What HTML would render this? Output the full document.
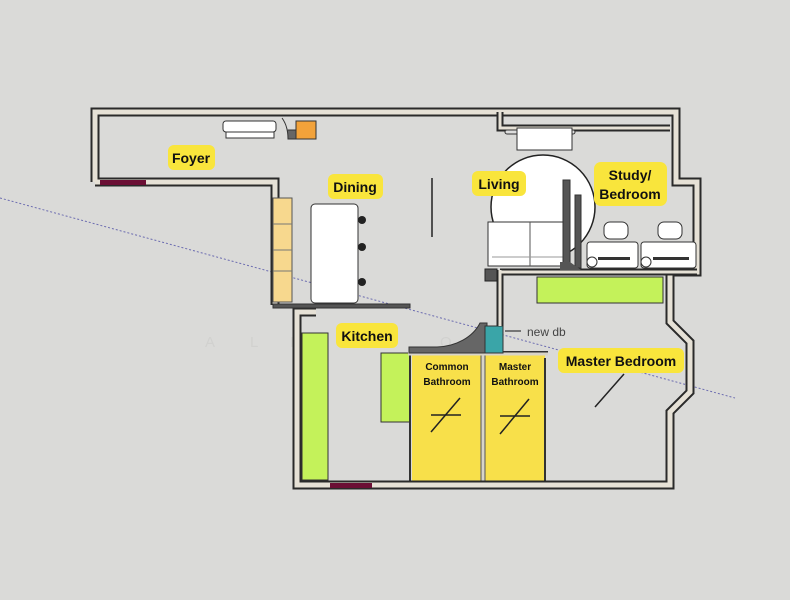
<!DOCTYPE html>
<html><head><meta charset="utf-8"><style>
html,body{margin:0;padding:0;background:#dadad8;}
svg{display:block}
text{font-family:"Liberation Sans",sans-serif;font-weight:bold;fill:#111}
text.wm{fill:#d1d1cf;font-weight:normal}
</style></head><body>
<svg width="790" height="600" viewBox="0 0 790 600" xmlns="http://www.w3.org/2000/svg">
<rect width="790" height="600" fill="#dadad8"/>
<line x1="0" y1="198" x2="735" y2="398" stroke="#6c6cb0" stroke-width="1" stroke-dasharray="2,2"/>
<g font-size="15">
<text class="wm" x="205" y="347">A</text>
<text class="wm" x="250" y="347">L</text>
<text class="wm" x="290" y="347">E</text>
<text class="wm" x="310" y="347">X</text>
<text class="wm" x="440" y="347">Q</text>
</g>
<rect x="302" y="333" width="26" height="147" fill="#c4f25a" stroke="#333" stroke-width="1"/>
<rect x="381" y="353" width="29" height="69" fill="#c4f25a" stroke="#333" stroke-width="1"/>
<rect x="537" y="277" width="126" height="26" fill="#c4f25a" stroke="#333" stroke-width="1"/>
<rect x="412" y="355" width="133" height="127" fill="#f8e04a"/>
<line x1="483" y1="355" x2="483" y2="482" stroke="#d8d4c8" stroke-width="4"/>
<line x1="481" y1="355" x2="481" y2="482" stroke="#555" stroke-width="1"/>
<line x1="485" y1="355" x2="485" y2="482" stroke="#555" stroke-width="1"/>
<path d="M410,352 L410,482 M545,358 L545,482 M410,352 L548,352" stroke="#333" stroke-width="2" fill="none"/>
<line x1="408" y1="354" x2="548" y2="354" stroke="#d8d4c8" stroke-width="3"/>
<path d="M409,347 L437,347 A48,38 0 0 0 480,323 L487,323 L487,353 L409,353 Z" fill="#666" stroke="#333" stroke-width="1"/>
<rect x="485" y="326" width="18" height="27" fill="#3aa5a8" stroke="#333" stroke-width="1"/>
<line x1="505" y1="331" x2="521" y2="331" stroke="#555" stroke-width="1.5"/>
<text x="527" y="336" font-size="12" style="fill:#444;font-weight:normal">new db</text>
<g fill="none" stroke-linejoin="miter">
<path d="M95,182 L95,112 L676,112 L676,182 L697,182 L697,272 L670,272 L670,322 L690,342 L690,392 L670,412 L670,485 L297,485 L297,312 L316,312 M95,182 L275,182 L275,305" stroke="#2a2a2a" stroke-width="9"/>
<path d="M95,182 L95,112 L676,112 L676,182 L697,182 L697,272 L670,272 L670,322 L690,342 L690,392 L670,412 L670,485 L297,485 L297,312 L316,312 M95,182 L275,182 L275,305" stroke="#e6e1d6" stroke-width="5"/>
<path d="M500,112 L500,128 L670,128 M500,272 L697,272 M500,270 L500,326" stroke="#2a2a2a" stroke-width="7"/>
<path d="M500,112 L500,128 L670,128 M500,272 L697,272 M500,270 L500,326" stroke="#e6e1d6" stroke-width="3"/>
</g>
<rect x="273" y="304" width="137" height="4" fill="#555" stroke="#333" stroke-width="1"/>
<rect x="100" y="180" width="46" height="5" fill="#6b0f35"/>
<rect x="330" y="483" width="42" height="5" fill="#6b0f35"/>
<rect x="485" y="269" width="12" height="12" fill="#555" stroke="#222"/>
<rect x="223" y="121" width="53" height="11" rx="3" fill="#fff" stroke="#333"/>
<rect x="226" y="132" width="48" height="6" fill="#fff" stroke="#333"/>
<path d="M282,118 Q288,126 288,139 L296,139 L296,130 L288,130" fill="#666" stroke="#333"/>
<rect x="296" y="121" width="20" height="18" fill="#f2a23a" stroke="#333"/>
<rect x="273" y="198" width="19" height="104" fill="#f7d88e" stroke="#555"/>
<line x1="273" y1="224" x2="292" y2="224" stroke="#777"/>
<line x1="273" y1="250" x2="292" y2="250" stroke="#777"/>
<line x1="273" y1="271" x2="292" y2="271" stroke="#777"/>
<rect x="311" y="204" width="47" height="99" rx="4" fill="#fff" stroke="#333"/>
<g fill="#222"><circle cx="362" cy="220" r="4"/><circle cx="362" cy="247" r="4"/><circle cx="362" cy="282" r="4"/></g>
<line x1="432" y1="178" x2="432" y2="237" stroke="#222" stroke-width="1.5"/>
<circle cx="543" cy="207" r="52" fill="#fff" stroke="#222" stroke-width="1.5"/>
<rect x="505" y="130" width="70" height="4" rx="2" fill="#ddd" stroke="#333"/>
<rect x="517" y="128" width="55" height="22" fill="#fff" stroke="#333"/>
<rect x="488" y="222" width="79" height="44" fill="#fff" stroke="#333"/>
<line x1="530" y1="222" x2="530" y2="266" stroke="#555"/>
<line x1="492" y1="257" x2="565" y2="257" stroke="#999"/>
<rect x="563" y="180" width="7" height="88" fill="#555" stroke="#333"/>
<rect x="575" y="195" width="6" height="73" fill="#555" stroke="#333"/>
<path d="M560,262 L570,262 L581,270 L560,270 Z" fill="#555"/>
<rect x="587" y="242" width="51" height="26" rx="3" fill="#fff" stroke="#333"/>
<rect x="641" y="242" width="55" height="26" rx="3" fill="#fff" stroke="#333"/>
<rect x="598" y="257" width="32" height="3" fill="#333"/><rect x="653" y="257" width="36" height="3" fill="#333"/>
<circle cx="592" cy="262" r="5" fill="#fff" stroke="#333"/><circle cx="646" cy="262" r="5" fill="#fff" stroke="#333"/>
<rect x="604" y="222" width="24" height="17" rx="6" fill="#fff" stroke="#333"/>
<rect x="658" y="222" width="24" height="17" rx="6" fill="#fff" stroke="#333"/>
<g stroke="#222" stroke-width="1.5">
<line x1="431" y1="415" x2="461" y2="415"/><line x1="431" y1="432" x2="460" y2="398"/>
<line x1="500" y1="416" x2="530" y2="416"/><line x1="500" y1="434" x2="529" y2="399"/>
<line x1="595" y1="407" x2="624" y2="374"/>
</g>
<g fill="#f9e53c">
<rect x="168" y="145" width="47" height="25" rx="6"/>
<rect x="328" y="174" width="55" height="25" rx="6"/>
<rect x="472" y="171" width="54" height="25" rx="6"/>
<rect x="594" y="162" width="73" height="44" rx="7"/>
<rect x="336" y="323" width="62" height="25" rx="6"/>
<rect x="558" y="348" width="126" height="25" rx="6"/>
</g>
<g font-size="14">
<text x="191" y="163" text-anchor="middle">Foyer</text>
<text x="355" y="192" text-anchor="middle">Dining</text>
<text x="499" y="189" text-anchor="middle">Living</text>
<text x="630" y="180" text-anchor="middle">Study/</text>
<text x="630" y="199" text-anchor="middle">Bedroom</text>
<text x="367" y="341" text-anchor="middle">Kitchen</text>
<text x="621" y="366" text-anchor="middle">Master Bedroom</text>
</g>
<g font-size="10">
<text x="447" y="370" text-anchor="middle">Common</text>
<text x="447" y="385" text-anchor="middle">Bathroom</text>
<text x="515" y="370" text-anchor="middle">Master</text>
<text x="515" y="385" text-anchor="middle">Bathroom</text>
</g>
</svg>
</body></html>
